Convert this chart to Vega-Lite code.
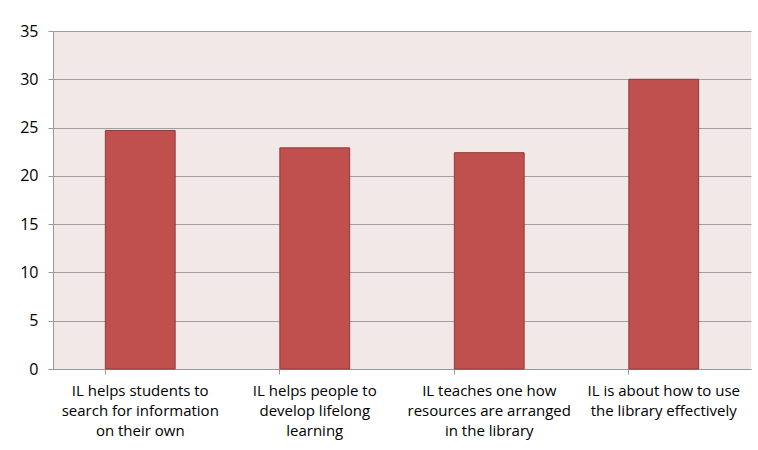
{
  "$schema": "https://vega.github.io/schema/vega-lite/v6.json",
  "width": 698,
  "height": 338,
  "autosize": {"type": "none"},
  "padding": {"left": 53, "top": 31, "right": 7, "bottom": 81},
  "background": "#ffffff",
  "config": {
    "view": {"fill": "#F2E8E8", "stroke": null},
    "font": "Open Sans"
  },
  "data": {
    "values": [
      {"category": "IL helps students to search for information on their own", "value": 24.7},
      {"category": "IL helps people to develop lifelong learning", "value": 22.9},
      {"category": "IL teaches one how resources are arranged in the library", "value": 22.4},
      {"category": "IL is about how to use the library effectively", "value": 30.0}
    ]
  },
  "mark": {"type": "bar", "color": "#C0504D", "stroke": "#8E3A38", "strokeWidth": 1},
  "encoding": {
    "x": {
      "field": "category",
      "type": "nominal",
      "sort": null,
      "scale": {"paddingInner": 0.6, "paddingOuter": 0.3},
      "axis": {
        "title": null,
        "labelAngle": 0,
        "labelFontSize": 15,
        "labelColor": "#000000",
        "labelLineHeight": 20,
        "labelPadding": 9,
        "labelBaseline": "top",
        "labelLimit": 0,
        "labelExpr": "datum.value == 'IL helps students to search for information on their own' ? ['IL helps students to', 'search for information', 'on their own'] : datum.value == 'IL helps people to develop lifelong learning' ? ['IL helps people to', 'develop lifelong', 'learning'] : datum.value == 'IL teaches one how resources are arranged in the library' ? ['IL teaches one how', 'resources are arranged', 'in the library'] : ['IL is about how to use', 'the library effectively']",
        "bandPosition": 0,
        "tickSize": 5,
        "tickColor": "#999999",
        "domainColor": "#999999",
        "grid": false
      }
    },
    "y": {
      "field": "value",
      "type": "quantitative",
      "scale": {"domain": [0, 35]},
      "axis": {
        "title": null,
        "values": [0, 5, 10, 15, 20, 25, 30, 35],
        "labelFontSize": 16,
        "labelColor": "#000000",
        "labelPadding": 10,
        "tickSize": 5,
        "tickColor": "#999999",
        "domainColor": "#999999",
        "gridColor": "#A0A0A0",
        "gridWidth": 1
      }
    }
  }
}
